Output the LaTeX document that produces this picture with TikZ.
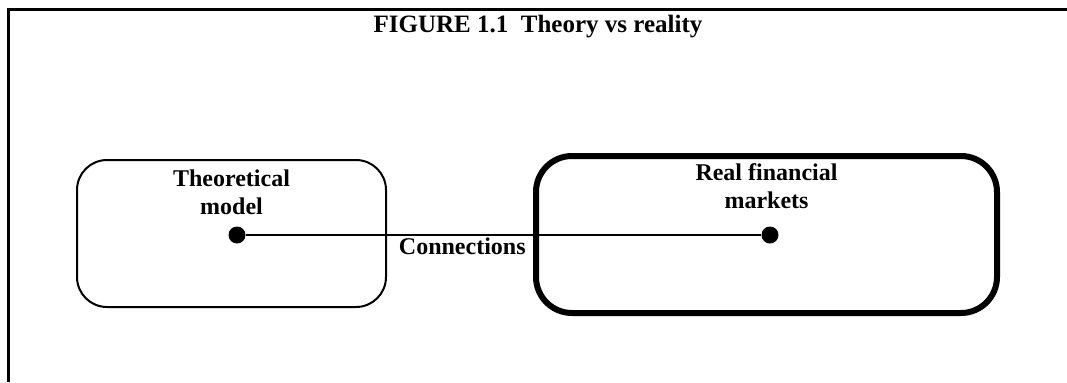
\documentclass[tikz,border=0pt]{standalone}
\usepackage{fontspec}
\setmainfont{Liberation Serif}
\usetikzlibrary{positioning}

\begin{document}
\begin{tikzpicture}[
    x=0.5pt, y=-0.5pt,
    box/.style={draw, rounded corners=15pt, inner sep=0pt},
    label/.style={font=\bfseries\fontsize{12}{14}\selectfont, align=center, inner sep=1pt},
    dot/.style={circle, fill, inner sep=0pt, minimum size=8.5pt}
  ]
    \useasboundingbox (0,0) rectangle (1067,382);
    % Frame (cut at right and bottom)
    \draw[line width=1.5pt] (1067,9) -- (8,9) -- (8,382);
    % Title
    \node[font=\bfseries\fontsize{12.5}{15}\selectfont] (title) at (538,27)
      {FIGURE 1.1\ \ Theory vs reality};
    % Theory side
    \node[box, line width=1pt, minimum width=154.5pt, minimum height=73.5pt]
      (theory) at (231.5,233.5) {};
    \node[label, below=4pt of theory.north] (theorylbl) {Theoretical\\model};
    \node[dot] (theorydot) at (237,235) {};
    % Market side
    \node[box, line width=3pt, rounded corners=18pt, minimum width=230.5pt,
          minimum height=78.5pt] (market) at (766.5,234.5) {};
    \node[label, below=4pt of market.north] (marketlbl) {Real financial\\markets};
    \node[dot] (marketdot) at (770,235) {};
    % Link
    \draw[line width=1pt] (theorydot) -- node[label, pos=0.42, below] (connlbl)
      {Connections} (marketdot);
\end{tikzpicture}
\end{document}
